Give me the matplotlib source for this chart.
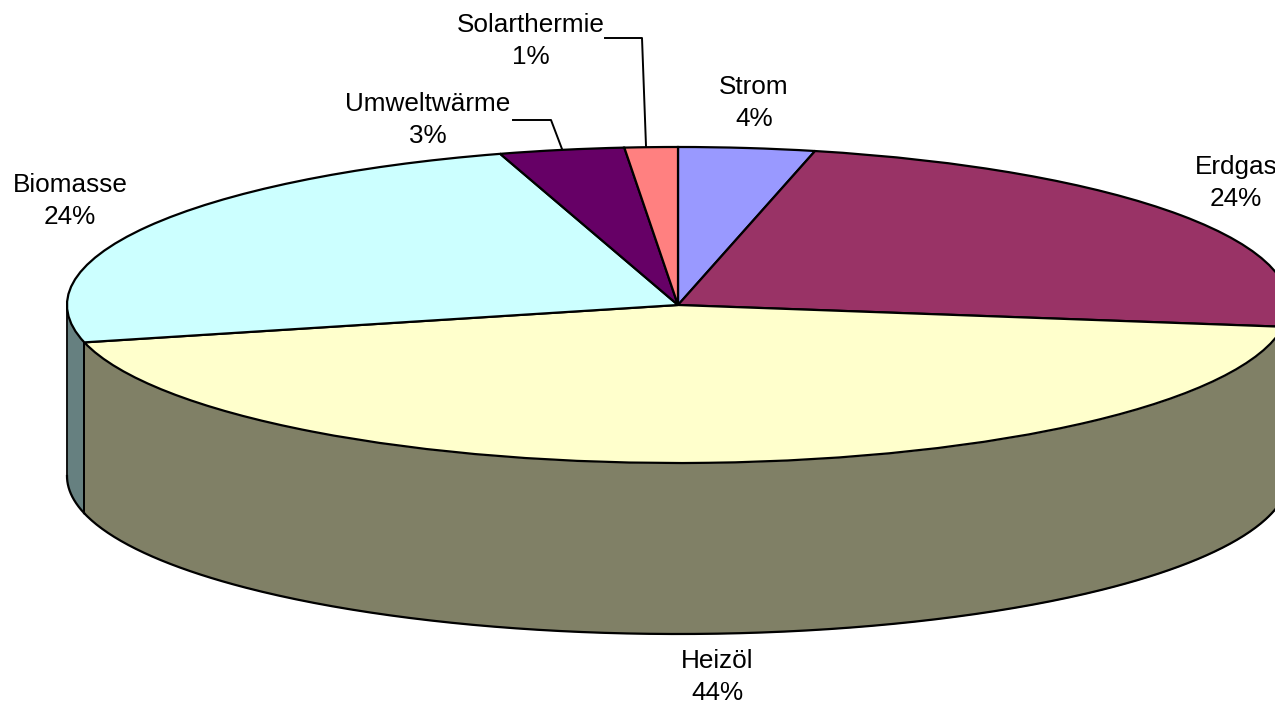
import numpy as np
import matplotlib
matplotlib.use('Agg')
import matplotlib.pyplot as plt

plt.rcParams['font.family'] = ['Liberation Sans', 'DejaVu Sans']

# Anteile (Winkel aus dem Bild gelesen), Beschriftung gerundet
categories = ['Strom', 'Erdgas', 'Heizöl', 'Biomasse', 'Umweltwärme', 'Solarthermie']
shares = [3.6, 23.6, 44.0, 24.1, 3.3, 1.4]
labels_pct = [4, 24, 44, 24, 3, 1]

top_colors = ['#9999ff', '#993366', '#ffffcc', '#ccffff', '#660066', '#ff8080']
side_colors = ['#4d4d80', '#4d1933', '#808066', '#668080', '#330033', '#804040']

# Lage im Bild (Pixel)
W, H = 1275, 705
cx, cy = 678, 305
rx, ry = 611, 158
depth = 171

label_pos = [(754, 103), (1236, 183), (717, 677), (70, 201), (428, 120), (531, 41)]
leaders = {
    'Solarthermie': ([605, 642, 646], [38, 38, 146]),
    'Umweltwärme': ([513, 551, 562], [120, 120, 149]),
}

fig = plt.figure(figsize=(W / 100, H / 100), dpi=100)
ax = fig.add_axes([0, 0, 1, 1])

ax.pie(shares, colors=top_colors, startangle=90, counterclock=False, radius=1,
       wedgeprops={'edgecolor': 'black', 'linewidth': 1.6, 'zorder': 3})

# Die Torte wird durch die Achsengrenzen zur Ellipse gestaucht
ax.set_aspect('auto')
ax.set_xlim(-cx / rx, (W - cx) / rx)
ax.set_ylim((cy - H) / ry, cy / ry)
ax.set_axis_off()

# Seitenwand: nur der vordere Teil des Randes ist sichtbar
d = depth / ry
bounds = np.cumsum([0] + shares) / sum(shares) * 360
for i in range(len(shares)):
    a0 = max(bounds[i], 90)
    a1 = min(bounds[i + 1], 270)
    if a1 <= a0:
        continue
    t = np.radians(np.linspace(a0, a1, 300))
    x = np.sin(t)
    y = np.cos(t)
    ax.fill_between(x, y - d, y, color=side_colors[i], linewidth=0, zorder=1)
    ax.plot(x, y - d, color='black', lw=1.6, zorder=2)
    ax.plot([x[0], x[0]], [y[0], y[0] - d], color='black', lw=1.3, zorder=2)
    ax.plot([x[-1], x[-1]], [y[-1], y[-1] - d], color='black', lw=1.3, zorder=2)

# Beschriftung in Pixelkoordinaten
ov = fig.add_axes([0, 0, 1, 1])
ov.set_xlim(0, W)
ov.set_ylim(H, 0)
ov.set_axis_off()
ov.patch.set_alpha(0)

for name, pct, (lx, ly) in zip(categories, labels_pct, label_pos):
    ov.text(lx, ly, f'{name}\n{pct}%', ha='center', va='center', fontsize=18.8,
            linespacing=1.45, color='black')

for name, (xs, ys) in leaders.items():
    ov.plot(xs, ys, color='black', lw=1.4)

fig.savefig('out.png', dpi=100, facecolor='white')
